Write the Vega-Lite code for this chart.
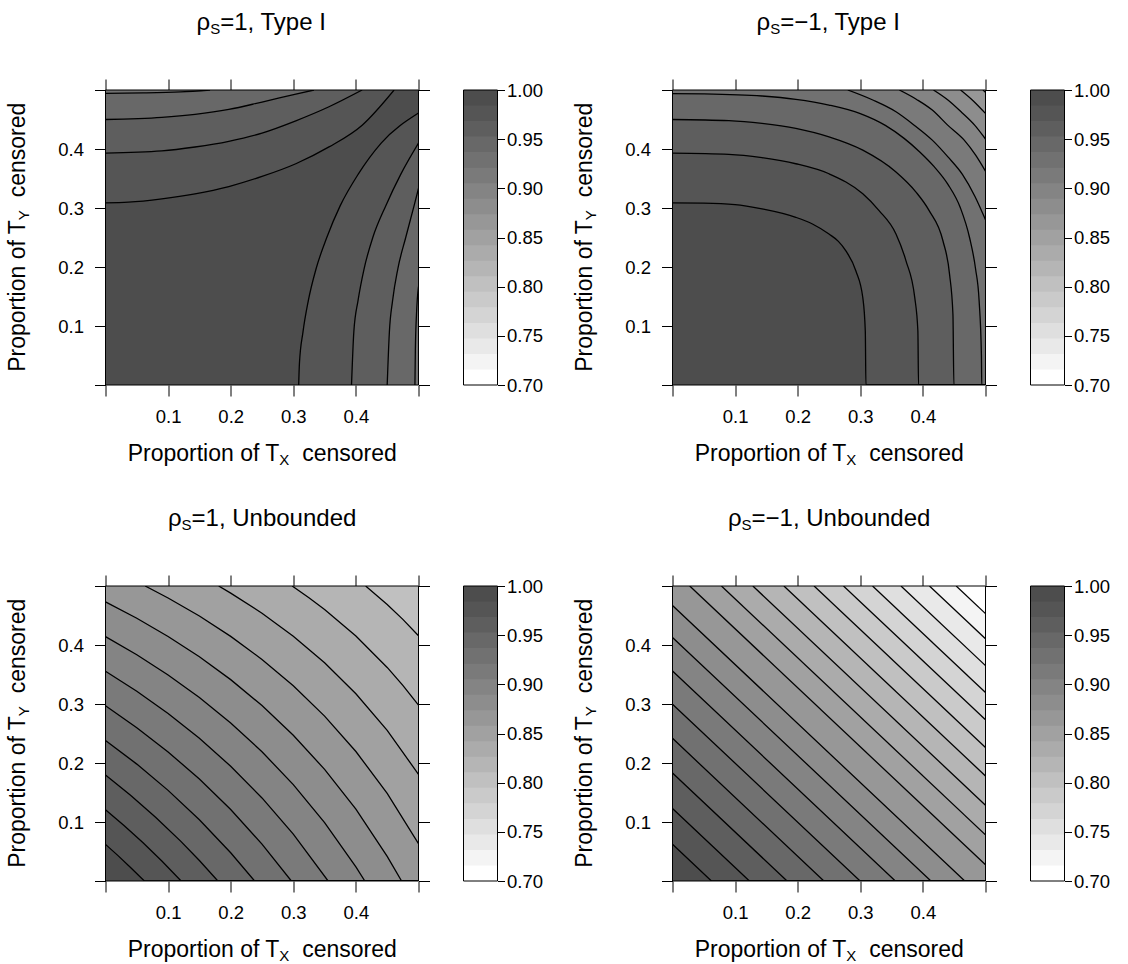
{
"$schema": "https://vega.github.io/schema/vega-lite/v6.json",
"background": "white",
"padding": {"left": 6.5, "top": 10, "right": 5, "bottom": 0},
"config": {
 "view": {"stroke": null},
 "axis": {"domain": false, "grid": false, "tickColor": "black", "tickSize": 11, "tickWidth": 1, "labelFont": "Liberation Sans", "labelFontSize": 18.5, "labelColor": "black", "labelFlush": false, "labelOverlap": false, "labelPadding": 11},
 "text": {"font": "Liberation Sans", "color": "black"}
},
"datasets": {
 "bands": [
  {"b":0,"lo":0.7,"hi":0.71579},{"b":1,"lo":0.71579,"hi":0.73158},{"b":2,"lo":0.73158,"hi":0.74737},{"b":3,"lo":0.74737,"hi":0.76316},{"b":4,"lo":0.76316,"hi":0.77895},{"b":5,"lo":0.77895,"hi":0.79474},{"b":6,"lo":0.79474,"hi":0.81053},{"b":7,"lo":0.81053,"hi":0.82632},{"b":8,"lo":0.82632,"hi":0.84211},{"b":9,"lo":0.84211,"hi":0.85789},{"b":10,"lo":0.85789,"hi":0.87368},{"b":11,"lo":0.87368,"hi":0.88947},{"b":12,"lo":0.88947,"hi":0.90526},{"b":13,"lo":0.90526,"hi":0.92105},{"b":14,"lo":0.92105,"hi":0.93684},{"b":15,"lo":0.93684,"hi":0.95263},{"b":16,"lo":0.95263,"hi":0.96842},{"b":17,"lo":0.96842,"hi":0.98421},{"b":18,"lo":0.98421,"hi":1.0}
 ],
 "p1a": [
  {"k":0,"x":0,"y":0.3086},{"k":0,"x":0.0366,"y":0.3098},{"k":0,"x":0.09,"y":0.3155},{"k":0,"x":0.143,"y":0.324},{"k":0,"x":0.197,"y":0.3364},{"k":0,"x":0.25,"y":0.3535},{"k":0,"x":0.304,"y":0.375},{"k":0,"x":0.357,"y":0.4035},{"k":0,"x":0.41,"y":0.4404},{"k":0,"x":0.461,"y":0.5},
  {"k":1,"x":0,"y":0.393},{"k":1,"x":0.09,"y":0.3967},{"k":1,"x":0.143,"y":0.4034},{"k":1,"x":0.197,"y":0.4131},{"k":1,"x":0.25,"y":0.427},{"k":1,"x":0.304,"y":0.4478},{"k":1,"x":0.357,"y":0.4716},{"k":1,"x":0.41,"y":0.5},
  {"k":2,"x":0,"y":0.45},{"k":2,"x":0.09,"y":0.4535},{"k":2,"x":0.143,"y":0.4586},{"k":2,"x":0.197,"y":0.467},{"k":2,"x":0.25,"y":0.4796},{"k":2,"x":0.304,"y":0.493},{"k":2,"x":0.333,"y":0.5},
  {"k":3,"x":0,"y":0.4943},{"k":3,"x":0.06,"y":0.495},{"k":3,"x":0.12,"y":0.4968},{"k":3,"x":0.167,"y":0.5}
 ],
 "p1b": [
  {"k":0,"y":0,"x":0.3086},{"k":0,"y":0.0366,"x":0.3098},{"k":0,"y":0.09,"x":0.3155},{"k":0,"y":0.143,"x":0.324},{"k":0,"y":0.197,"x":0.3364},{"k":0,"y":0.25,"x":0.3535},{"k":0,"y":0.304,"x":0.375},{"k":0,"y":0.357,"x":0.4035},{"k":0,"y":0.41,"x":0.4404},{"k":0,"y":0.461,"x":0.5},
  {"k":1,"y":0,"x":0.393},{"k":1,"y":0.09,"x":0.3967},{"k":1,"y":0.143,"x":0.4034},{"k":1,"y":0.197,"x":0.4131},{"k":1,"y":0.25,"x":0.427},{"k":1,"y":0.304,"x":0.4478},{"k":1,"y":0.357,"x":0.4716},{"k":1,"y":0.41,"x":0.5},
  {"k":2,"y":0,"x":0.45},{"k":2,"y":0.09,"x":0.4535},{"k":2,"y":0.143,"x":0.4586},{"k":2,"y":0.197,"x":0.467},{"k":2,"y":0.25,"x":0.4796},{"k":2,"y":0.304,"x":0.493},{"k":2,"y":0.333,"x":0.5},
  {"k":3,"y":0,"x":0.4943},{"k":3,"y":0.06,"x":0.495},{"k":3,"y":0.12,"x":0.4968},{"k":3,"y":0.167,"x":0.5}
 ],
 "p2": [
  {"k":0,"x":0,"y":0.3086},{"k":0,"x":0.05,"y":0.3082},{"k":0,"x":0.1,"y":0.3058},{"k":0,"x":0.143,"y":0.2984},{"k":0,"x":0.197,"y":0.2842},{"k":0,"x":0.2236,"y":0.2729},{"k":0,"x":0.25,"y":0.2558},{"k":0,"x":0.265,"y":0.2435},{"k":0,"x":0.277,"y":0.2274},{"k":0,"x":0.293,"y":0.1933},{"k":0,"x":0.304,"y":0.148},{"k":0,"x":0.308,"y":0.091},{"k":0,"x":0.309,"y":0},{"k":0,"x":0.5,"y":0},
  {"k":1,"x":0,"y":0.393},{"k":1,"x":0.09,"y":0.391},{"k":1,"x":0.143,"y":0.3853},{"k":1,"x":0.197,"y":0.375},{"k":1,"x":0.25,"y":0.358},{"k":1,"x":0.304,"y":0.324},{"k":1,"x":0.33,"y":0.2956},{"k":1,"x":0.357,"y":0.256},{"k":1,"x":0.373,"y":0.2104},{"k":1,"x":0.387,"y":0.148},{"k":1,"x":0.392,"y":0.091},{"k":1,"x":0.393,"y":0},{"k":1,"x":0.5,"y":0},
  {"k":2,"x":0,"y":0.45},{"k":2,"x":0.09,"y":0.448},{"k":2,"x":0.143,"y":0.4433},{"k":2,"x":0.197,"y":0.4349},{"k":2,"x":0.25,"y":0.4205},{"k":2,"x":0.304,"y":0.398},{"k":2,"x":0.357,"y":0.361},{"k":2,"x":0.389,"y":0.327},{"k":2,"x":0.41,"y":0.2956},{"k":2,"x":0.432,"y":0.2445},{"k":2,"x":0.4426,"y":0.1876},{"k":2,"x":0.448,"y":0.1195},{"k":2,"x":0.4495,"y":0},{"k":2,"x":0.5,"y":0},
  {"k":3,"x":0,"y":0.494},{"k":3,"x":0.05,"y":0.4935},{"k":3,"x":0.143,"y":0.4898},{"k":3,"x":0.197,"y":0.4841},{"k":3,"x":0.25,"y":0.4745},{"k":3,"x":0.3,"y":0.46},{"k":3,"x":0.34,"y":0.44},{"k":3,"x":0.37,"y":0.418},{"k":3,"x":0.395,"y":0.395},{"k":3,"x":0.418,"y":0.37},{"k":3,"x":0.44,"y":0.34},{"k":3,"x":0.46,"y":0.3},{"k":3,"x":0.4745,"y":0.25},{"k":3,"x":0.4841,"y":0.197},{"k":3,"x":0.4898,"y":0.143},{"k":3,"x":0.4935,"y":0.05},{"k":3,"x":0.494,"y":0},{"k":3,"x":0.5,"y":0},
  {"k":4,"x":0.28,"y":0.5},{"k":4,"x":0.32,"y":0.483},{"k":4,"x":0.357,"y":0.4631},{"k":4,"x":0.3866,"y":0.44},{"k":4,"x":0.415,"y":0.415},{"k":4,"x":0.44,"y":0.3866},{"k":4,"x":0.4631,"y":0.357},{"k":4,"x":0.483,"y":0.32},{"k":4,"x":0.5,"y":0.28},
  {"k":5,"x":0.3624,"y":0.5},{"k":5,"x":0.39,"y":0.484},{"k":5,"x":0.415,"y":0.466},{"k":5,"x":0.44,"y":0.44},{"k":5,"x":0.466,"y":0.415},{"k":5,"x":0.484,"y":0.39},{"k":5,"x":0.5,"y":0.3624},
  {"k":6,"x":0.4169,"y":0.5},{"k":6,"x":0.44,"y":0.483},{"k":6,"x":0.462,"y":0.462},{"k":6,"x":0.483,"y":0.44},{"k":6,"x":0.5,"y":0.4169},
  {"k":7,"x":0.4602,"y":0.5},{"k":7,"x":0.481,"y":0.481},{"k":7,"x":0.5,"y":0.4602},
  {"k":8,"x":0.496,"y":0.5},{"k":8,"x":0.5,"y":0.496}
 ],
 "p3": [
  {"k":0,"x":0,"y":0.0621},{"k":0,"x":0.02,"y":0.043},{"k":0,"x":0.04,"y":0.023},{"k":0,"x":0.0621,"y":0},{"k":0,"x":0.5,"y":0},
  {"k":1,"x":0,"y":0.1208},{"k":1,"x":0.03,"y":0.0936},{"k":1,"x":0.06,"y":0.0647},{"k":1,"x":0.09,"y":0.0339},{"k":1,"x":0.1208,"y":0},{"k":1,"x":0.5,"y":0},
  {"k":2,"x":0,"y":0.1795},{"k":2,"x":0.04,"y":0.1453},{"k":2,"x":0.08,"y":0.1082},{"k":2,"x":0.12,"y":0.0676},{"k":2,"x":0.15,"y":0.0347},{"k":2,"x":0.1795,"y":0},{"k":2,"x":0.5,"y":0},
  {"k":3,"x":0,"y":0.2382},{"k":3,"x":0.05,"y":0.1981},{"k":3,"x":0.1,"y":0.1536},{"k":3,"x":0.15,"y":0.1038},{"k":3,"x":0.2,"y":0.0478},{"k":3,"x":0.2382,"y":0},{"k":3,"x":0.5,"y":0},
  {"k":4,"x":0,"y":0.2969},{"k":4,"x":0.05,"y":0.2599},{"k":4,"x":0.1,"y":0.2188},{"k":4,"x":0.15,"y":0.1728},{"k":4,"x":0.2,"y":0.1211},{"k":4,"x":0.25,"y":0.0625},{"k":4,"x":0.2969,"y":0},{"k":4,"x":0.5,"y":0},
  {"k":5,"x":0,"y":0.3556},{"k":5,"x":0.05,"y":0.3217},{"k":5,"x":0.1,"y":0.284},{"k":5,"x":0.15,"y":0.2419},{"k":5,"x":0.2,"y":0.1945},{"k":5,"x":0.25,"y":0.1408},{"k":5,"x":0.3,"y":0.0794},{"k":5,"x":0.3556,"y":0},{"k":5,"x":0.5,"y":0},
  {"k":6,"x":0,"y":0.4143},{"k":6,"x":0.05,"y":0.3835},{"k":6,"x":0.1,"y":0.3492},{"k":6,"x":0.15,"y":0.3109},{"k":6,"x":0.2,"y":0.2679},{"k":6,"x":0.25,"y":0.2191},{"k":6,"x":0.3,"y":0.1633},{"k":6,"x":0.35,"y":0.0989},{"k":6,"x":0.4,"y":0.0238},{"k":6,"x":0.4143,"y":0},{"k":6,"x":0.5,"y":0},
  {"k":7,"x":0,"y":0.473},{"k":7,"x":0.05,"y":0.4453},{"k":7,"x":0.1,"y":0.4144},{"k":7,"x":0.15,"y":0.38},{"k":7,"x":0.2,"y":0.3413},{"k":7,"x":0.25,"y":0.2973},{"k":7,"x":0.3,"y":0.2471},{"k":7,"x":0.35,"y":0.1892},{"k":7,"x":0.4,"y":0.1217},{"k":7,"x":0.45,"y":0.0418},{"k":7,"x":0.473,"y":0},{"k":7,"x":0.5,"y":0},
  {"k":8,"x":0.0634,"y":0.5},{"k":8,"x":0.1,"y":0.4797},{"k":8,"x":0.15,"y":0.4491},{"k":8,"x":0.2,"y":0.4146},{"k":8,"x":0.25,"y":0.3756},{"k":8,"x":0.3,"y":0.331},{"k":8,"x":0.35,"y":0.2795},{"k":8,"x":0.4,"y":0.2195},{"k":8,"x":0.45,"y":0.1485},{"k":8,"x":0.5,"y":0.0634},
  {"k":9,"x":0.1808,"y":0.5},{"k":9,"x":0.2,"y":0.488},{"k":9,"x":0.25,"y":0.4539},{"k":9,"x":0.3,"y":0.4149},{"k":9,"x":0.35,"y":0.3698},{"k":9,"x":0.4,"y":0.3173},{"k":9,"x":0.45,"y":0.2553},{"k":9,"x":0.5,"y":0.1808},
  {"k":10,"x":0.2982,"y":0.5},{"k":10,"x":0.325,"y":0.4801},{"k":10,"x":0.35,"y":0.4602},{"k":10,"x":0.4,"y":0.4152},{"k":10,"x":0.45,"y":0.362},{"k":10,"x":0.475,"y":0.3316},{"k":10,"x":0.5,"y":0.2982},
  {"k":11,"x":0.4156,"y":0.5},{"k":11,"x":0.45,"y":0.4687},{"k":11,"x":0.475,"y":0.4434},{"k":11,"x":0.5,"y":0.4156}
 ],
 "p4": [
  {"k":0,"x":0,"y":0.0622},{"k":0,"x":0.0622,"y":0},{"k":0,"x":0.5,"y":0},
  {"k":1,"x":0,"y":0.1229},{"k":1,"x":0.1229,"y":0},{"k":1,"x":0.5,"y":0},
  {"k":2,"x":0,"y":0.183},{"k":2,"x":0.183,"y":0},{"k":2,"x":0.5,"y":0},
  {"k":3,"x":0,"y":0.2418},{"k":3,"x":0.2418,"y":0},{"k":3,"x":0.5,"y":0},
  {"k":4,"x":0,"y":0.2997},{"k":4,"x":0.2997,"y":0},{"k":4,"x":0.5,"y":0},
  {"k":5,"x":0,"y":0.356},{"k":5,"x":0.356,"y":0},{"k":5,"x":0.5,"y":0},
  {"k":6,"x":0,"y":0.4128},{"k":6,"x":0.4128,"y":0},{"k":6,"x":0.5,"y":0},
  {"k":7,"x":0,"y":0.4669},{"k":7,"x":0.4669,"y":0},{"k":7,"x":0.5,"y":0},
  {"k":8,"x":0.0275,"y":0.5},{"k":8,"x":0.5,"y":0.0275},
  {"k":9,"x":0.0782,"y":0.5},{"k":9,"x":0.5,"y":0.0782},
  {"k":10,"x":0.1284,"y":0.5},{"k":10,"x":0.5,"y":0.1284},
  {"k":11,"x":0.178,"y":0.5},{"k":11,"x":0.5,"y":0.178},
  {"k":12,"x":0.2262,"y":0.5},{"k":12,"x":0.5,"y":0.2262},
  {"k":13,"x":0.2732,"y":0.5},{"k":13,"x":0.5,"y":0.2732},
  {"k":14,"x":0.3196,"y":0.5},{"k":14,"x":0.5,"y":0.3196},
  {"k":15,"x":0.365,"y":0.5},{"k":15,"x":0.5,"y":0.365},
  {"k":16,"x":0.4105,"y":0.5},{"k":16,"x":0.5,"y":0.4105},
  {"k":17,"x":0.4532,"y":0.5},{"k":17,"x":0.5,"y":0.4532}
 ]
},
"columns": 4,
"spacing": {"row": 201, "column": 45},
"bounds": "flush",
"align": "each",
"resolve": {"scale": {"color": "independent"}},
"concat": [
 {
  "width": 313, "height": 295,
  "resolve": {"axis": {"x": "independent", "y": "independent"}},
  "layer": [
   {"data": {"values": [{}]}, "mark": {"type": "rect", "color": "#4d4d4d"},
    "encoding": {
     "x": {"datum": 0, "type": "quantitative", "scale": {"domain": [0, 0.5], "nice": false, "zero": false}, "axis": {"orient": "bottom", "values": [0, 0.1, 0.2, 0.3, 0.4, 0.5], "labelExpr": "datum.value > 0.05 && datum.value < 0.45 ? format(datum.value, '.1f') : ''", "labelPadding": 11, "title": null}},
     "x2": {"datum": 0.5},
     "y": {"datum": 0, "type": "quantitative", "scale": {"domain": [0, 0.5], "nice": false, "zero": false}, "axis": {"orient": "left", "values": [0, 0.1, 0.2, 0.3, 0.4, 0.5], "labelExpr": "datum.value > 0.05 && datum.value < 0.45 ? format(datum.value, '.1f') : ''", "labelPadding": 11, "title": null}},
     "y2": {"datum": 0.5}}},
   {"data": {"name": "p1a"}, "mark": {"type": "area", "clip": true, "interpolate": "monotone"},
    "encoding": {
     "x": {"field": "x", "type": "quantitative", "scale": {"domain": [0, 0.5], "nice": false, "zero": false}, "axis": null},
     "y": {"field": "y", "type": "quantitative", "scale": {"domain": [0, 0.5], "nice": false, "zero": false}, "axis": null, "stack": null},
     "y2": {"datum": 0.5},
     "color": {"field": "k", "type": "ordinal", "scale": {"domain": [0,1,2,3,4,5,6,7,8,9,10,11,12,13,14,15,16,17], "range": ["#555555","#5e5e5e","#686868","#717171","#7a7a7a","#848484","#8d8d8d","#979797","#a1a1a1","#ababab","#b5b5b5","#c0c0c0","#cacaca","#d4d4d4","#dfdfdf","#e9e9e9","#f4f4f4","#ffffff"]}, "legend": null}}},
   {"data": {"name": "p1b"}, "mark": {"type": "area", "clip": true, "interpolate": "monotone", "orient": "horizontal"},
    "encoding": {
     "y": {"field": "y", "type": "quantitative", "scale": {"domain": [0, 0.5], "nice": false, "zero": false}, "axis": null},
     "x": {"field": "x", "type": "quantitative", "scale": {"domain": [0, 0.5], "nice": false, "zero": false}, "axis": null, "stack": null},
     "x2": {"datum": 0.5},
     "color": {"field": "k", "type": "ordinal", "scale": {"domain": [0,1,2,3,4,5,6,7,8,9,10,11,12,13,14,15,16,17], "range": ["#555555","#5e5e5e","#686868","#717171","#7a7a7a","#848484","#8d8d8d","#979797","#a1a1a1","#ababab","#b5b5b5","#c0c0c0","#cacaca","#d4d4d4","#dfdfdf","#e9e9e9","#f4f4f4","#ffffff"]}, "legend": null}}},
   {"data": {"name": "p1a"}, "mark": {"type": "line", "clip": true, "interpolate": "monotone", "color": "black", "strokeWidth": 1.3},
    "encoding": {
     "x": {"field": "x", "type": "quantitative", "scale": {"domain": [0, 0.5], "nice": false, "zero": false}, "axis": null},
     "y": {"field": "y", "type": "quantitative", "scale": {"domain": [0, 0.5], "nice": false, "zero": false}, "axis": null},
     "detail": {"field": "k", "type": "nominal"}}},
   {"data": {"name": "p1b"}, "mark": {"type": "line", "clip": true, "interpolate": "monotone", "color": "black", "strokeWidth": 1.3},
    "encoding": {
     "x": {"field": "x", "type": "quantitative", "scale": {"domain": [0, 0.5], "nice": false, "zero": false}, "axis": null},
     "y": {"field": "y", "type": "quantitative", "scale": {"domain": [0, 0.5], "nice": false, "zero": false}, "axis": null},
     "order": {"field": "y", "type": "quantitative"},
     "detail": {"field": "k", "type": "nominal"}}},
   {"data": {"values": [{}]}, "mark": {"type": "rect", "fillOpacity": 0, "stroke": "black", "strokeWidth": 1},
    "encoding": {
     "x": {"datum": 0, "type": "quantitative", "scale": {"domain": [0, 0.5], "nice": false, "zero": false}, "axis": {"orient": "top", "values": [0, 0.1, 0.2, 0.3, 0.4, 0.5], "labels": false, "title": null}},
     "x2": {"datum": 0.5},
     "y": {"datum": 0, "type": "quantitative", "scale": {"domain": [0, 0.5], "nice": false, "zero": false}, "axis": {"orient": "right", "values": [0, 0.1, 0.2, 0.3, 0.4, 0.5], "labels": false, "title": null}},
     "y2": {"datum": 0.5}}},
   {"data": {"values": [{}]}, "mark": {"type": "text", "text": "ρ", "align": "right", "baseline": "alphabetic", "fontSize": 24, "dx": -51.75},
    "encoding": {"x": {"datum": 0.25, "type": "quantitative", "scale": {"domain": [0, 0.5], "nice": false, "zero": false}, "axis": null}, "y": {"datum": 0.6017, "type": "quantitative", "scale": {"domain": [0, 0.5], "nice": false, "zero": false}, "axis": null}}},
   {"data": {"values": [{}]}, "mark": {"type": "text", "text": "S", "align": "left", "baseline": "alphabetic", "fontSize": 15, "dx": -51.75, "dy": 4},
    "encoding": {"x": {"datum": 0.25, "type": "quantitative", "scale": {"domain": [0, 0.5], "nice": false, "zero": false}, "axis": null}, "y": {"datum": 0.6017, "type": "quantitative", "scale": {"domain": [0, 0.5], "nice": false, "zero": false}, "axis": null}}},
   {"data": {"values": [{}]}, "mark": {"type": "text", "text": "=1, Type I", "align": "left", "baseline": "alphabetic", "fontSize": 24, "dx": -41.75},
    "encoding": {"x": {"datum": 0.25, "type": "quantitative", "scale": {"domain": [0, 0.5], "nice": false, "zero": false}, "axis": null}, "y": {"datum": 0.6017, "type": "quantitative", "scale": {"domain": [0, 0.5], "nice": false, "zero": false}, "axis": null}}},
   {"data": {"values": [{}]}, "mark": {"type": "text", "text": "Proportion of T", "align": "right", "baseline": "alphabetic", "fontSize": 23, "dx": 17.35},
    "encoding": {"x": {"datum": 0.25, "type": "quantitative", "scale": {"domain": [0, 0.5], "nice": false, "zero": false}, "axis": null}, "y": {"datum": -0.1288, "type": "quantitative", "scale": {"domain": [0, 0.5], "nice": false, "zero": false}, "axis": null}}},
   {"data": {"values": [{}]}, "mark": {"type": "text", "text": "X", "align": "left", "baseline": "alphabetic", "fontSize": 15, "dx": 17.35, "dy": 4.5},
    "encoding": {"x": {"datum": 0.25, "type": "quantitative", "scale": {"domain": [0, 0.5], "nice": false, "zero": false}, "axis": null}, "y": {"datum": -0.1288, "type": "quantitative", "scale": {"domain": [0, 0.5], "nice": false, "zero": false}, "axis": null}}},
   {"data": {"values": [{}]}, "mark": {"type": "text", "text": "censored", "align": "left", "baseline": "alphabetic", "fontSize": 23, "dx": 40.15},
    "encoding": {"x": {"datum": 0.25, "type": "quantitative", "scale": {"domain": [0, 0.5], "nice": false, "zero": false}, "axis": null}, "y": {"datum": -0.1288, "type": "quantitative", "scale": {"domain": [0, 0.5], "nice": false, "zero": false}, "axis": null}}},
   {"data": {"values": [{}]}, "mark": {"type": "text", "text": "Proportion of T", "angle": 270, "align": "right", "baseline": "alphabetic", "fontSize": 23, "dx": 17.35},
    "encoding": {"x": {"datum": -0.1286, "type": "quantitative", "scale": {"domain": [0, 0.5], "nice": false, "zero": false}, "axis": null}, "y": {"datum": 0.25, "type": "quantitative", "scale": {"domain": [0, 0.5], "nice": false, "zero": false}, "axis": null}}},
   {"data": {"values": [{}]}, "mark": {"type": "text", "text": "Y", "angle": 270, "align": "left", "baseline": "alphabetic", "fontSize": 15, "dx": 17.35, "dy": 4.5},
    "encoding": {"x": {"datum": -0.1286, "type": "quantitative", "scale": {"domain": [0, 0.5], "nice": false, "zero": false}, "axis": null}, "y": {"datum": 0.25, "type": "quantitative", "scale": {"domain": [0, 0.5], "nice": false, "zero": false}, "axis": null}}},
   {"data": {"values": [{}]}, "mark": {"type": "text", "text": "censored", "angle": 270, "align": "left", "baseline": "alphabetic", "fontSize": 23, "dx": 40.15},
    "encoding": {"x": {"datum": -0.1286, "type": "quantitative", "scale": {"domain": [0, 0.5], "nice": false, "zero": false}, "axis": null}, "y": {"datum": 0.25, "type": "quantitative", "scale": {"domain": [0, 0.5], "nice": false, "zero": false}, "axis": null}}}
  ]
 },
 {
  "width": 164, "height": 295,
  "resolve": {"axis": {"x": "independent", "y": "independent"}},
  "layer": [
   {"data": {"name": "bands"}, "mark": {"type": "rect"},
    "encoding": {
     "x": {"datum": 0, "type": "quantitative", "scale": {"domain": [0, 4.8235], "nice": false, "zero": false}, "axis": null},
     "x2": {"datum": 1},
     "y": {"field": "lo", "type": "quantitative", "scale": {"domain": [0.7, 1], "nice": false, "zero": false}, "axis": {"orient": "right", "offset": -130, "values": [0.7, 0.75, 0.8, 0.85, 0.9, 0.95, 1], "format": ".2f", "tickSize": 7, "labelPadding": 2, "title": null}},
     "y2": {"datum": 1},
     "color": {"field": "b", "type": "ordinal", "scale": {"domain": [0,1,2,3,4,5,6,7,8,9,10,11,12,13,14,15,16,17,18], "range": ["#ffffff","#f4f4f4","#e9e9e9","#dfdfdf","#d4d4d4","#cacaca","#c0c0c0","#b5b5b5","#ababab","#a1a1a1","#979797","#8d8d8d","#848484","#7a7a7a","#717171","#686868","#5e5e5e","#555555","#4d4d4d"]}, "legend": null}}},
   {"data": {"values": [{}]}, "mark": {"type": "rect", "fillOpacity": 0, "stroke": "black", "strokeWidth": 1},
    "encoding": {
     "x": {"datum": 0, "type": "quantitative", "scale": {"domain": [0, 4.8235], "nice": false, "zero": false}, "axis": null},
     "x2": {"datum": 1},
     "y": {"datum": 0.7, "type": "quantitative", "scale": {"domain": [0.7, 1], "nice": false, "zero": false}, "axis": null},
     "y2": {"datum": 1}}}
  ]
 },
 {
  "width": 313, "height": 295,
  "resolve": {"axis": {"x": "independent", "y": "independent"}},
  "layer": [
   {"data": {"values": [{}]}, "mark": {"type": "rect", "color": "#4d4d4d"},
    "encoding": {
     "x": {"datum": 0, "type": "quantitative", "scale": {"domain": [0, 0.5], "nice": false, "zero": false}, "axis": {"orient": "bottom", "values": [0, 0.1, 0.2, 0.3, 0.4, 0.5], "labelExpr": "datum.value > 0.05 && datum.value < 0.45 ? format(datum.value, '.1f') : ''", "labelPadding": 11, "title": null}},
     "x2": {"datum": 0.5},
     "y": {"datum": 0, "type": "quantitative", "scale": {"domain": [0, 0.5], "nice": false, "zero": false}, "axis": {"orient": "left", "values": [0, 0.1, 0.2, 0.3, 0.4, 0.5], "labelExpr": "datum.value > 0.05 && datum.value < 0.45 ? format(datum.value, '.1f') : ''", "labelPadding": 11, "title": null}},
     "y2": {"datum": 0.5}}},
   {"data": {"name": "p2"}, "mark": {"type": "area", "clip": true, "interpolate": "monotone"},
    "encoding": {
     "x": {"field": "x", "type": "quantitative", "scale": {"domain": [0, 0.5], "nice": false, "zero": false}, "axis": null},
     "y": {"field": "y", "type": "quantitative", "scale": {"domain": [0, 0.5], "nice": false, "zero": false}, "axis": null, "stack": null},
     "y2": {"datum": 0.5},
     "color": {"field": "k", "type": "ordinal", "scale": {"domain": [0,1,2,3,4,5,6,7,8,9,10,11,12,13,14,15,16,17], "range": ["#555555","#5e5e5e","#686868","#717171","#7a7a7a","#848484","#8d8d8d","#979797","#a1a1a1","#ababab","#b5b5b5","#c0c0c0","#cacaca","#d4d4d4","#dfdfdf","#e9e9e9","#f4f4f4","#ffffff"]}, "legend": null}}},
   {"data": {"name": "p2"}, "mark": {"type": "line", "clip": true, "interpolate": "monotone", "color": "black", "strokeWidth": 1.3},
    "encoding": {
     "x": {"field": "x", "type": "quantitative", "scale": {"domain": [0, 0.5], "nice": false, "zero": false}, "axis": null},
     "y": {"field": "y", "type": "quantitative", "scale": {"domain": [0, 0.5], "nice": false, "zero": false}, "axis": null},
     "detail": {"field": "k", "type": "nominal"}}},
   {"data": {"values": [{}]}, "mark": {"type": "rect", "fillOpacity": 0, "stroke": "black", "strokeWidth": 1},
    "encoding": {
     "x": {"datum": 0, "type": "quantitative", "scale": {"domain": [0, 0.5], "nice": false, "zero": false}, "axis": {"orient": "top", "values": [0, 0.1, 0.2, 0.3, 0.4, 0.5], "labels": false, "title": null}},
     "x2": {"datum": 0.5},
     "y": {"datum": 0, "type": "quantitative", "scale": {"domain": [0, 0.5], "nice": false, "zero": false}, "axis": {"orient": "right", "values": [0, 0.1, 0.2, 0.3, 0.4, 0.5], "labels": false, "title": null}},
     "y2": {"datum": 0.5}}},
   {"data": {"values": [{}]}, "mark": {"type": "text", "text": "ρ", "align": "right", "baseline": "alphabetic", "fontSize": 24, "dx": -58.75},
    "encoding": {"x": {"datum": 0.25, "type": "quantitative", "scale": {"domain": [0, 0.5], "nice": false, "zero": false}, "axis": null}, "y": {"datum": 0.6017, "type": "quantitative", "scale": {"domain": [0, 0.5], "nice": false, "zero": false}, "axis": null}}},
   {"data": {"values": [{}]}, "mark": {"type": "text", "text": "S", "align": "left", "baseline": "alphabetic", "fontSize": 15, "dx": -58.75, "dy": 4},
    "encoding": {"x": {"datum": 0.25, "type": "quantitative", "scale": {"domain": [0, 0.5], "nice": false, "zero": false}, "axis": null}, "y": {"datum": 0.6017, "type": "quantitative", "scale": {"domain": [0, 0.5], "nice": false, "zero": false}, "axis": null}}},
   {"data": {"values": [{}]}, "mark": {"type": "text", "text": "=−1, Type I", "align": "left", "baseline": "alphabetic", "fontSize": 24, "dx": -48.75},
    "encoding": {"x": {"datum": 0.25, "type": "quantitative", "scale": {"domain": [0, 0.5], "nice": false, "zero": false}, "axis": null}, "y": {"datum": 0.6017, "type": "quantitative", "scale": {"domain": [0, 0.5], "nice": false, "zero": false}, "axis": null}}},
   {"data": {"values": [{}]}, "mark": {"type": "text", "text": "Proportion of T", "align": "right", "baseline": "alphabetic", "fontSize": 23, "dx": 17.35},
    "encoding": {"x": {"datum": 0.25, "type": "quantitative", "scale": {"domain": [0, 0.5], "nice": false, "zero": false}, "axis": null}, "y": {"datum": -0.1288, "type": "quantitative", "scale": {"domain": [0, 0.5], "nice": false, "zero": false}, "axis": null}}},
   {"data": {"values": [{}]}, "mark": {"type": "text", "text": "X", "align": "left", "baseline": "alphabetic", "fontSize": 15, "dx": 17.35, "dy": 4.5},
    "encoding": {"x": {"datum": 0.25, "type": "quantitative", "scale": {"domain": [0, 0.5], "nice": false, "zero": false}, "axis": null}, "y": {"datum": -0.1288, "type": "quantitative", "scale": {"domain": [0, 0.5], "nice": false, "zero": false}, "axis": null}}},
   {"data": {"values": [{}]}, "mark": {"type": "text", "text": "censored", "align": "left", "baseline": "alphabetic", "fontSize": 23, "dx": 40.15},
    "encoding": {"x": {"datum": 0.25, "type": "quantitative", "scale": {"domain": [0, 0.5], "nice": false, "zero": false}, "axis": null}, "y": {"datum": -0.1288, "type": "quantitative", "scale": {"domain": [0, 0.5], "nice": false, "zero": false}, "axis": null}}},
   {"data": {"values": [{}]}, "mark": {"type": "text", "text": "Proportion of T", "angle": 270, "align": "right", "baseline": "alphabetic", "fontSize": 23, "dx": 17.35},
    "encoding": {"x": {"datum": -0.1286, "type": "quantitative", "scale": {"domain": [0, 0.5], "nice": false, "zero": false}, "axis": null}, "y": {"datum": 0.25, "type": "quantitative", "scale": {"domain": [0, 0.5], "nice": false, "zero": false}, "axis": null}}},
   {"data": {"values": [{}]}, "mark": {"type": "text", "text": "Y", "angle": 270, "align": "left", "baseline": "alphabetic", "fontSize": 15, "dx": 17.35, "dy": 4.5},
    "encoding": {"x": {"datum": -0.1286, "type": "quantitative", "scale": {"domain": [0, 0.5], "nice": false, "zero": false}, "axis": null}, "y": {"datum": 0.25, "type": "quantitative", "scale": {"domain": [0, 0.5], "nice": false, "zero": false}, "axis": null}}},
   {"data": {"values": [{}]}, "mark": {"type": "text", "text": "censored", "angle": 270, "align": "left", "baseline": "alphabetic", "fontSize": 23, "dx": 40.15},
    "encoding": {"x": {"datum": -0.1286, "type": "quantitative", "scale": {"domain": [0, 0.5], "nice": false, "zero": false}, "axis": null}, "y": {"datum": 0.25, "type": "quantitative", "scale": {"domain": [0, 0.5], "nice": false, "zero": false}, "axis": null}}}
  ]
 },
 {
  "width": 34, "height": 295,
  "resolve": {"axis": {"x": "independent", "y": "independent"}},
  "layer": [
   {"data": {"name": "bands"}, "mark": {"type": "rect"},
    "encoding": {
     "x": {"datum": 0, "type": "quantitative", "scale": {"domain": [0, 1], "nice": false, "zero": false}, "axis": null},
     "x2": {"datum": 1},
     "y": {"field": "lo", "type": "quantitative", "scale": {"domain": [0.7, 1], "nice": false, "zero": false}, "axis": {"orient": "right", "values": [0.7, 0.75, 0.8, 0.85, 0.9, 0.95, 1], "format": ".2f", "tickSize": 7, "labelPadding": 2, "title": null}},
     "y2": {"datum": 1},
     "color": {"field": "b", "type": "ordinal", "scale": {"domain": [0,1,2,3,4,5,6,7,8,9,10,11,12,13,14,15,16,17,18], "range": ["#ffffff","#f4f4f4","#e9e9e9","#dfdfdf","#d4d4d4","#cacaca","#c0c0c0","#b5b5b5","#ababab","#a1a1a1","#979797","#8d8d8d","#848484","#7a7a7a","#717171","#686868","#5e5e5e","#555555","#4d4d4d"]}, "legend": null}}},
   {"data": {"values": [{}]}, "mark": {"type": "rect", "fillOpacity": 0, "stroke": "black", "strokeWidth": 1},
    "encoding": {
     "x": {"datum": 0, "type": "quantitative", "scale": {"domain": [0, 1], "nice": false, "zero": false}, "axis": null},
     "x2": {"datum": 1},
     "y": {"datum": 0.7, "type": "quantitative", "scale": {"domain": [0.7, 1], "nice": false, "zero": false}, "axis": null},
     "y2": {"datum": 1}}}
  ]
 },
 {
  "width": 313, "height": 295,
  "resolve": {"axis": {"x": "independent", "y": "independent"}},
  "layer": [
   {"data": {"values": [{}]}, "mark": {"type": "rect", "color": "#4d4d4d"},
    "encoding": {
     "x": {"datum": 0, "type": "quantitative", "scale": {"domain": [0, 0.5], "nice": false, "zero": false}, "axis": {"orient": "bottom", "values": [0, 0.1, 0.2, 0.3, 0.4, 0.5], "labelExpr": "datum.value > 0.05 && datum.value < 0.45 ? format(datum.value, '.1f') : ''", "labelPadding": 11, "title": null}},
     "x2": {"datum": 0.5},
     "y": {"datum": 0, "type": "quantitative", "scale": {"domain": [0, 0.5], "nice": false, "zero": false}, "axis": {"orient": "left", "values": [0, 0.1, 0.2, 0.3, 0.4, 0.5], "labelExpr": "datum.value > 0.05 && datum.value < 0.45 ? format(datum.value, '.1f') : ''", "labelPadding": 11, "title": null}},
     "y2": {"datum": 0.5}}},
   {"data": {"name": "p3"}, "mark": {"type": "area", "clip": true},
    "encoding": {
     "x": {"field": "x", "type": "quantitative", "scale": {"domain": [0, 0.5], "nice": false, "zero": false}, "axis": null},
     "y": {"field": "y", "type": "quantitative", "scale": {"domain": [0, 0.5], "nice": false, "zero": false}, "axis": null, "stack": null},
     "y2": {"datum": 0.5},
     "color": {"field": "k", "type": "ordinal", "scale": {"domain": [0,1,2,3,4,5,6,7,8,9,10,11,12,13,14,15,16,17], "range": ["#555555","#5e5e5e","#686868","#717171","#7a7a7a","#848484","#8d8d8d","#979797","#a1a1a1","#ababab","#b5b5b5","#c0c0c0","#cacaca","#d4d4d4","#dfdfdf","#e9e9e9","#f4f4f4","#ffffff"]}, "legend": null}}},
   {"data": {"name": "p3"}, "mark": {"type": "line", "clip": true, "color": "black", "strokeWidth": 1.3},
    "encoding": {
     "x": {"field": "x", "type": "quantitative", "scale": {"domain": [0, 0.5], "nice": false, "zero": false}, "axis": null},
     "y": {"field": "y", "type": "quantitative", "scale": {"domain": [0, 0.5], "nice": false, "zero": false}, "axis": null},
     "detail": {"field": "k", "type": "nominal"}}},
   {"data": {"values": [{}]}, "mark": {"type": "rect", "fillOpacity": 0, "stroke": "black", "strokeWidth": 1},
    "encoding": {
     "x": {"datum": 0, "type": "quantitative", "scale": {"domain": [0, 0.5], "nice": false, "zero": false}, "axis": {"orient": "top", "values": [0, 0.1, 0.2, 0.3, 0.4, 0.5], "labels": false, "title": null}},
     "x2": {"datum": 0.5},
     "y": {"datum": 0, "type": "quantitative", "scale": {"domain": [0, 0.5], "nice": false, "zero": false}, "axis": {"orient": "right", "values": [0, 0.1, 0.2, 0.3, 0.4, 0.5], "labels": false, "title": null}},
     "y2": {"datum": 0.5}}},
   {"data": {"values": [{}]}, "mark": {"type": "text", "text": "ρ", "align": "right", "baseline": "alphabetic", "fontSize": 24, "dx": -80.45},
    "encoding": {"x": {"datum": 0.25, "type": "quantitative", "scale": {"domain": [0, 0.5], "nice": false, "zero": false}, "axis": null}, "y": {"datum": 0.6017, "type": "quantitative", "scale": {"domain": [0, 0.5], "nice": false, "zero": false}, "axis": null}}},
   {"data": {"values": [{}]}, "mark": {"type": "text", "text": "S", "align": "left", "baseline": "alphabetic", "fontSize": 15, "dx": -80.45, "dy": 4},
    "encoding": {"x": {"datum": 0.25, "type": "quantitative", "scale": {"domain": [0, 0.5], "nice": false, "zero": false}, "axis": null}, "y": {"datum": 0.6017, "type": "quantitative", "scale": {"domain": [0, 0.5], "nice": false, "zero": false}, "axis": null}}},
   {"data": {"values": [{}]}, "mark": {"type": "text", "text": "=1, Unbounded", "align": "left", "baseline": "alphabetic", "fontSize": 24, "dx": -70.45},
    "encoding": {"x": {"datum": 0.25, "type": "quantitative", "scale": {"domain": [0, 0.5], "nice": false, "zero": false}, "axis": null}, "y": {"datum": 0.6017, "type": "quantitative", "scale": {"domain": [0, 0.5], "nice": false, "zero": false}, "axis": null}}},
   {"data": {"values": [{}]}, "mark": {"type": "text", "text": "Proportion of T", "align": "right", "baseline": "alphabetic", "fontSize": 23, "dx": 17.35},
    "encoding": {"x": {"datum": 0.25, "type": "quantitative", "scale": {"domain": [0, 0.5], "nice": false, "zero": false}, "axis": null}, "y": {"datum": -0.1288, "type": "quantitative", "scale": {"domain": [0, 0.5], "nice": false, "zero": false}, "axis": null}}},
   {"data": {"values": [{}]}, "mark": {"type": "text", "text": "X", "align": "left", "baseline": "alphabetic", "fontSize": 15, "dx": 17.35, "dy": 4.5},
    "encoding": {"x": {"datum": 0.25, "type": "quantitative", "scale": {"domain": [0, 0.5], "nice": false, "zero": false}, "axis": null}, "y": {"datum": -0.1288, "type": "quantitative", "scale": {"domain": [0, 0.5], "nice": false, "zero": false}, "axis": null}}},
   {"data": {"values": [{}]}, "mark": {"type": "text", "text": "censored", "align": "left", "baseline": "alphabetic", "fontSize": 23, "dx": 40.15},
    "encoding": {"x": {"datum": 0.25, "type": "quantitative", "scale": {"domain": [0, 0.5], "nice": false, "zero": false}, "axis": null}, "y": {"datum": -0.1288, "type": "quantitative", "scale": {"domain": [0, 0.5], "nice": false, "zero": false}, "axis": null}}},
   {"data": {"values": [{}]}, "mark": {"type": "text", "text": "Proportion of T", "angle": 270, "align": "right", "baseline": "alphabetic", "fontSize": 23, "dx": 17.35},
    "encoding": {"x": {"datum": -0.1286, "type": "quantitative", "scale": {"domain": [0, 0.5], "nice": false, "zero": false}, "axis": null}, "y": {"datum": 0.25, "type": "quantitative", "scale": {"domain": [0, 0.5], "nice": false, "zero": false}, "axis": null}}},
   {"data": {"values": [{}]}, "mark": {"type": "text", "text": "Y", "angle": 270, "align": "left", "baseline": "alphabetic", "fontSize": 15, "dx": 17.35, "dy": 4.5},
    "encoding": {"x": {"datum": -0.1286, "type": "quantitative", "scale": {"domain": [0, 0.5], "nice": false, "zero": false}, "axis": null}, "y": {"datum": 0.25, "type": "quantitative", "scale": {"domain": [0, 0.5], "nice": false, "zero": false}, "axis": null}}},
   {"data": {"values": [{}]}, "mark": {"type": "text", "text": "censored", "angle": 270, "align": "left", "baseline": "alphabetic", "fontSize": 23, "dx": 40.15},
    "encoding": {"x": {"datum": -0.1286, "type": "quantitative", "scale": {"domain": [0, 0.5], "nice": false, "zero": false}, "axis": null}, "y": {"datum": 0.25, "type": "quantitative", "scale": {"domain": [0, 0.5], "nice": false, "zero": false}, "axis": null}}}
  ]
 },
 {
  "width": 164, "height": 295,
  "resolve": {"axis": {"x": "independent", "y": "independent"}},
  "layer": [
   {"data": {"name": "bands"}, "mark": {"type": "rect"},
    "encoding": {
     "x": {"datum": 0, "type": "quantitative", "scale": {"domain": [0, 4.8235], "nice": false, "zero": false}, "axis": null},
     "x2": {"datum": 1},
     "y": {"field": "lo", "type": "quantitative", "scale": {"domain": [0.7, 1], "nice": false, "zero": false}, "axis": {"orient": "right", "offset": -130, "values": [0.7, 0.75, 0.8, 0.85, 0.9, 0.95, 1], "format": ".2f", "tickSize": 7, "labelPadding": 2, "title": null}},
     "y2": {"datum": 1},
     "color": {"field": "b", "type": "ordinal", "scale": {"domain": [0,1,2,3,4,5,6,7,8,9,10,11,12,13,14,15,16,17,18], "range": ["#ffffff","#f4f4f4","#e9e9e9","#dfdfdf","#d4d4d4","#cacaca","#c0c0c0","#b5b5b5","#ababab","#a1a1a1","#979797","#8d8d8d","#848484","#7a7a7a","#717171","#686868","#5e5e5e","#555555","#4d4d4d"]}, "legend": null}}},
   {"data": {"values": [{}]}, "mark": {"type": "rect", "fillOpacity": 0, "stroke": "black", "strokeWidth": 1},
    "encoding": {
     "x": {"datum": 0, "type": "quantitative", "scale": {"domain": [0, 4.8235], "nice": false, "zero": false}, "axis": null},
     "x2": {"datum": 1},
     "y": {"datum": 0.7, "type": "quantitative", "scale": {"domain": [0.7, 1], "nice": false, "zero": false}, "axis": null},
     "y2": {"datum": 1}}}
  ]
 },
 {
  "width": 313, "height": 295,
  "resolve": {"axis": {"x": "independent", "y": "independent"}},
  "layer": [
   {"data": {"values": [{}]}, "mark": {"type": "rect", "color": "#4d4d4d"},
    "encoding": {
     "x": {"datum": 0, "type": "quantitative", "scale": {"domain": [0, 0.5], "nice": false, "zero": false}, "axis": {"orient": "bottom", "values": [0, 0.1, 0.2, 0.3, 0.4, 0.5], "labelExpr": "datum.value > 0.05 && datum.value < 0.45 ? format(datum.value, '.1f') : ''", "labelPadding": 11, "title": null}},
     "x2": {"datum": 0.5},
     "y": {"datum": 0, "type": "quantitative", "scale": {"domain": [0, 0.5], "nice": false, "zero": false}, "axis": {"orient": "left", "values": [0, 0.1, 0.2, 0.3, 0.4, 0.5], "labelExpr": "datum.value > 0.05 && datum.value < 0.45 ? format(datum.value, '.1f') : ''", "labelPadding": 11, "title": null}},
     "y2": {"datum": 0.5}}},
   {"data": {"name": "p4"}, "mark": {"type": "area", "clip": true},
    "encoding": {
     "x": {"field": "x", "type": "quantitative", "scale": {"domain": [0, 0.5], "nice": false, "zero": false}, "axis": null},
     "y": {"field": "y", "type": "quantitative", "scale": {"domain": [0, 0.5], "nice": false, "zero": false}, "axis": null, "stack": null},
     "y2": {"datum": 0.5},
     "color": {"field": "k", "type": "ordinal", "scale": {"domain": [0,1,2,3,4,5,6,7,8,9,10,11,12,13,14,15,16,17], "range": ["#555555","#5e5e5e","#686868","#717171","#7a7a7a","#848484","#8d8d8d","#979797","#a1a1a1","#ababab","#b5b5b5","#c0c0c0","#cacaca","#d4d4d4","#dfdfdf","#e9e9e9","#f4f4f4","#ffffff"]}, "legend": null}}},
   {"data": {"name": "p4"}, "mark": {"type": "line", "clip": true, "color": "black", "strokeWidth": 1.3},
    "encoding": {
     "x": {"field": "x", "type": "quantitative", "scale": {"domain": [0, 0.5], "nice": false, "zero": false}, "axis": null},
     "y": {"field": "y", "type": "quantitative", "scale": {"domain": [0, 0.5], "nice": false, "zero": false}, "axis": null},
     "detail": {"field": "k", "type": "nominal"}}},
   {"data": {"values": [{}]}, "mark": {"type": "rect", "fillOpacity": 0, "stroke": "black", "strokeWidth": 1},
    "encoding": {
     "x": {"datum": 0, "type": "quantitative", "scale": {"domain": [0, 0.5], "nice": false, "zero": false}, "axis": {"orient": "top", "values": [0, 0.1, 0.2, 0.3, 0.4, 0.5], "labels": false, "title": null}},
     "x2": {"datum": 0.5},
     "y": {"datum": 0, "type": "quantitative", "scale": {"domain": [0, 0.5], "nice": false, "zero": false}, "axis": {"orient": "right", "values": [0, 0.1, 0.2, 0.3, 0.4, 0.5], "labels": false, "title": null}},
     "y2": {"datum": 0.5}}},
   {"data": {"values": [{}]}, "mark": {"type": "text", "text": "ρ", "align": "right", "baseline": "alphabetic", "fontSize": 24, "dx": -87.45},
    "encoding": {"x": {"datum": 0.25, "type": "quantitative", "scale": {"domain": [0, 0.5], "nice": false, "zero": false}, "axis": null}, "y": {"datum": 0.6017, "type": "quantitative", "scale": {"domain": [0, 0.5], "nice": false, "zero": false}, "axis": null}}},
   {"data": {"values": [{}]}, "mark": {"type": "text", "text": "S", "align": "left", "baseline": "alphabetic", "fontSize": 15, "dx": -87.45, "dy": 4},
    "encoding": {"x": {"datum": 0.25, "type": "quantitative", "scale": {"domain": [0, 0.5], "nice": false, "zero": false}, "axis": null}, "y": {"datum": 0.6017, "type": "quantitative", "scale": {"domain": [0, 0.5], "nice": false, "zero": false}, "axis": null}}},
   {"data": {"values": [{}]}, "mark": {"type": "text", "text": "=−1, Unbounded", "align": "left", "baseline": "alphabetic", "fontSize": 24, "dx": -77.45},
    "encoding": {"x": {"datum": 0.25, "type": "quantitative", "scale": {"domain": [0, 0.5], "nice": false, "zero": false}, "axis": null}, "y": {"datum": 0.6017, "type": "quantitative", "scale": {"domain": [0, 0.5], "nice": false, "zero": false}, "axis": null}}},
   {"data": {"values": [{}]}, "mark": {"type": "text", "text": "Proportion of T", "align": "right", "baseline": "alphabetic", "fontSize": 23, "dx": 17.35},
    "encoding": {"x": {"datum": 0.25, "type": "quantitative", "scale": {"domain": [0, 0.5], "nice": false, "zero": false}, "axis": null}, "y": {"datum": -0.1288, "type": "quantitative", "scale": {"domain": [0, 0.5], "nice": false, "zero": false}, "axis": null}}},
   {"data": {"values": [{}]}, "mark": {"type": "text", "text": "X", "align": "left", "baseline": "alphabetic", "fontSize": 15, "dx": 17.35, "dy": 4.5},
    "encoding": {"x": {"datum": 0.25, "type": "quantitative", "scale": {"domain": [0, 0.5], "nice": false, "zero": false}, "axis": null}, "y": {"datum": -0.1288, "type": "quantitative", "scale": {"domain": [0, 0.5], "nice": false, "zero": false}, "axis": null}}},
   {"data": {"values": [{}]}, "mark": {"type": "text", "text": "censored", "align": "left", "baseline": "alphabetic", "fontSize": 23, "dx": 40.15},
    "encoding": {"x": {"datum": 0.25, "type": "quantitative", "scale": {"domain": [0, 0.5], "nice": false, "zero": false}, "axis": null}, "y": {"datum": -0.1288, "type": "quantitative", "scale": {"domain": [0, 0.5], "nice": false, "zero": false}, "axis": null}}},
   {"data": {"values": [{}]}, "mark": {"type": "text", "text": "Proportion of T", "angle": 270, "align": "right", "baseline": "alphabetic", "fontSize": 23, "dx": 17.35},
    "encoding": {"x": {"datum": -0.1286, "type": "quantitative", "scale": {"domain": [0, 0.5], "nice": false, "zero": false}, "axis": null}, "y": {"datum": 0.25, "type": "quantitative", "scale": {"domain": [0, 0.5], "nice": false, "zero": false}, "axis": null}}},
   {"data": {"values": [{}]}, "mark": {"type": "text", "text": "Y", "angle": 270, "align": "left", "baseline": "alphabetic", "fontSize": 15, "dx": 17.35, "dy": 4.5},
    "encoding": {"x": {"datum": -0.1286, "type": "quantitative", "scale": {"domain": [0, 0.5], "nice": false, "zero": false}, "axis": null}, "y": {"datum": 0.25, "type": "quantitative", "scale": {"domain": [0, 0.5], "nice": false, "zero": false}, "axis": null}}},
   {"data": {"values": [{}]}, "mark": {"type": "text", "text": "censored", "angle": 270, "align": "left", "baseline": "alphabetic", "fontSize": 23, "dx": 40.15},
    "encoding": {"x": {"datum": -0.1286, "type": "quantitative", "scale": {"domain": [0, 0.5], "nice": false, "zero": false}, "axis": null}, "y": {"datum": 0.25, "type": "quantitative", "scale": {"domain": [0, 0.5], "nice": false, "zero": false}, "axis": null}}}
  ]
 },
 {
  "width": 34, "height": 295,
  "resolve": {"axis": {"x": "independent", "y": "independent"}},
  "layer": [
   {"data": {"name": "bands"}, "mark": {"type": "rect"},
    "encoding": {
     "x": {"datum": 0, "type": "quantitative", "scale": {"domain": [0, 1], "nice": false, "zero": false}, "axis": null},
     "x2": {"datum": 1},
     "y": {"field": "lo", "type": "quantitative", "scale": {"domain": [0.7, 1], "nice": false, "zero": false}, "axis": {"orient": "right", "values": [0.7, 0.75, 0.8, 0.85, 0.9, 0.95, 1], "format": ".2f", "tickSize": 7, "labelPadding": 2, "title": null}},
     "y2": {"datum": 1},
     "color": {"field": "b", "type": "ordinal", "scale": {"domain": [0,1,2,3,4,5,6,7,8,9,10,11,12,13,14,15,16,17,18], "range": ["#ffffff","#f4f4f4","#e9e9e9","#dfdfdf","#d4d4d4","#cacaca","#c0c0c0","#b5b5b5","#ababab","#a1a1a1","#979797","#8d8d8d","#848484","#7a7a7a","#717171","#686868","#5e5e5e","#555555","#4d4d4d"]}, "legend": null}}},
   {"data": {"values": [{}]}, "mark": {"type": "rect", "fillOpacity": 0, "stroke": "black", "strokeWidth": 1},
    "encoding": {
     "x": {"datum": 0, "type": "quantitative", "scale": {"domain": [0, 1], "nice": false, "zero": false}, "axis": null},
     "x2": {"datum": 1},
     "y": {"datum": 0.7, "type": "quantitative", "scale": {"domain": [0.7, 1], "nice": false, "zero": false}, "axis": null},
     "y2": {"datum": 1}}}
  ]
 }
]
}
